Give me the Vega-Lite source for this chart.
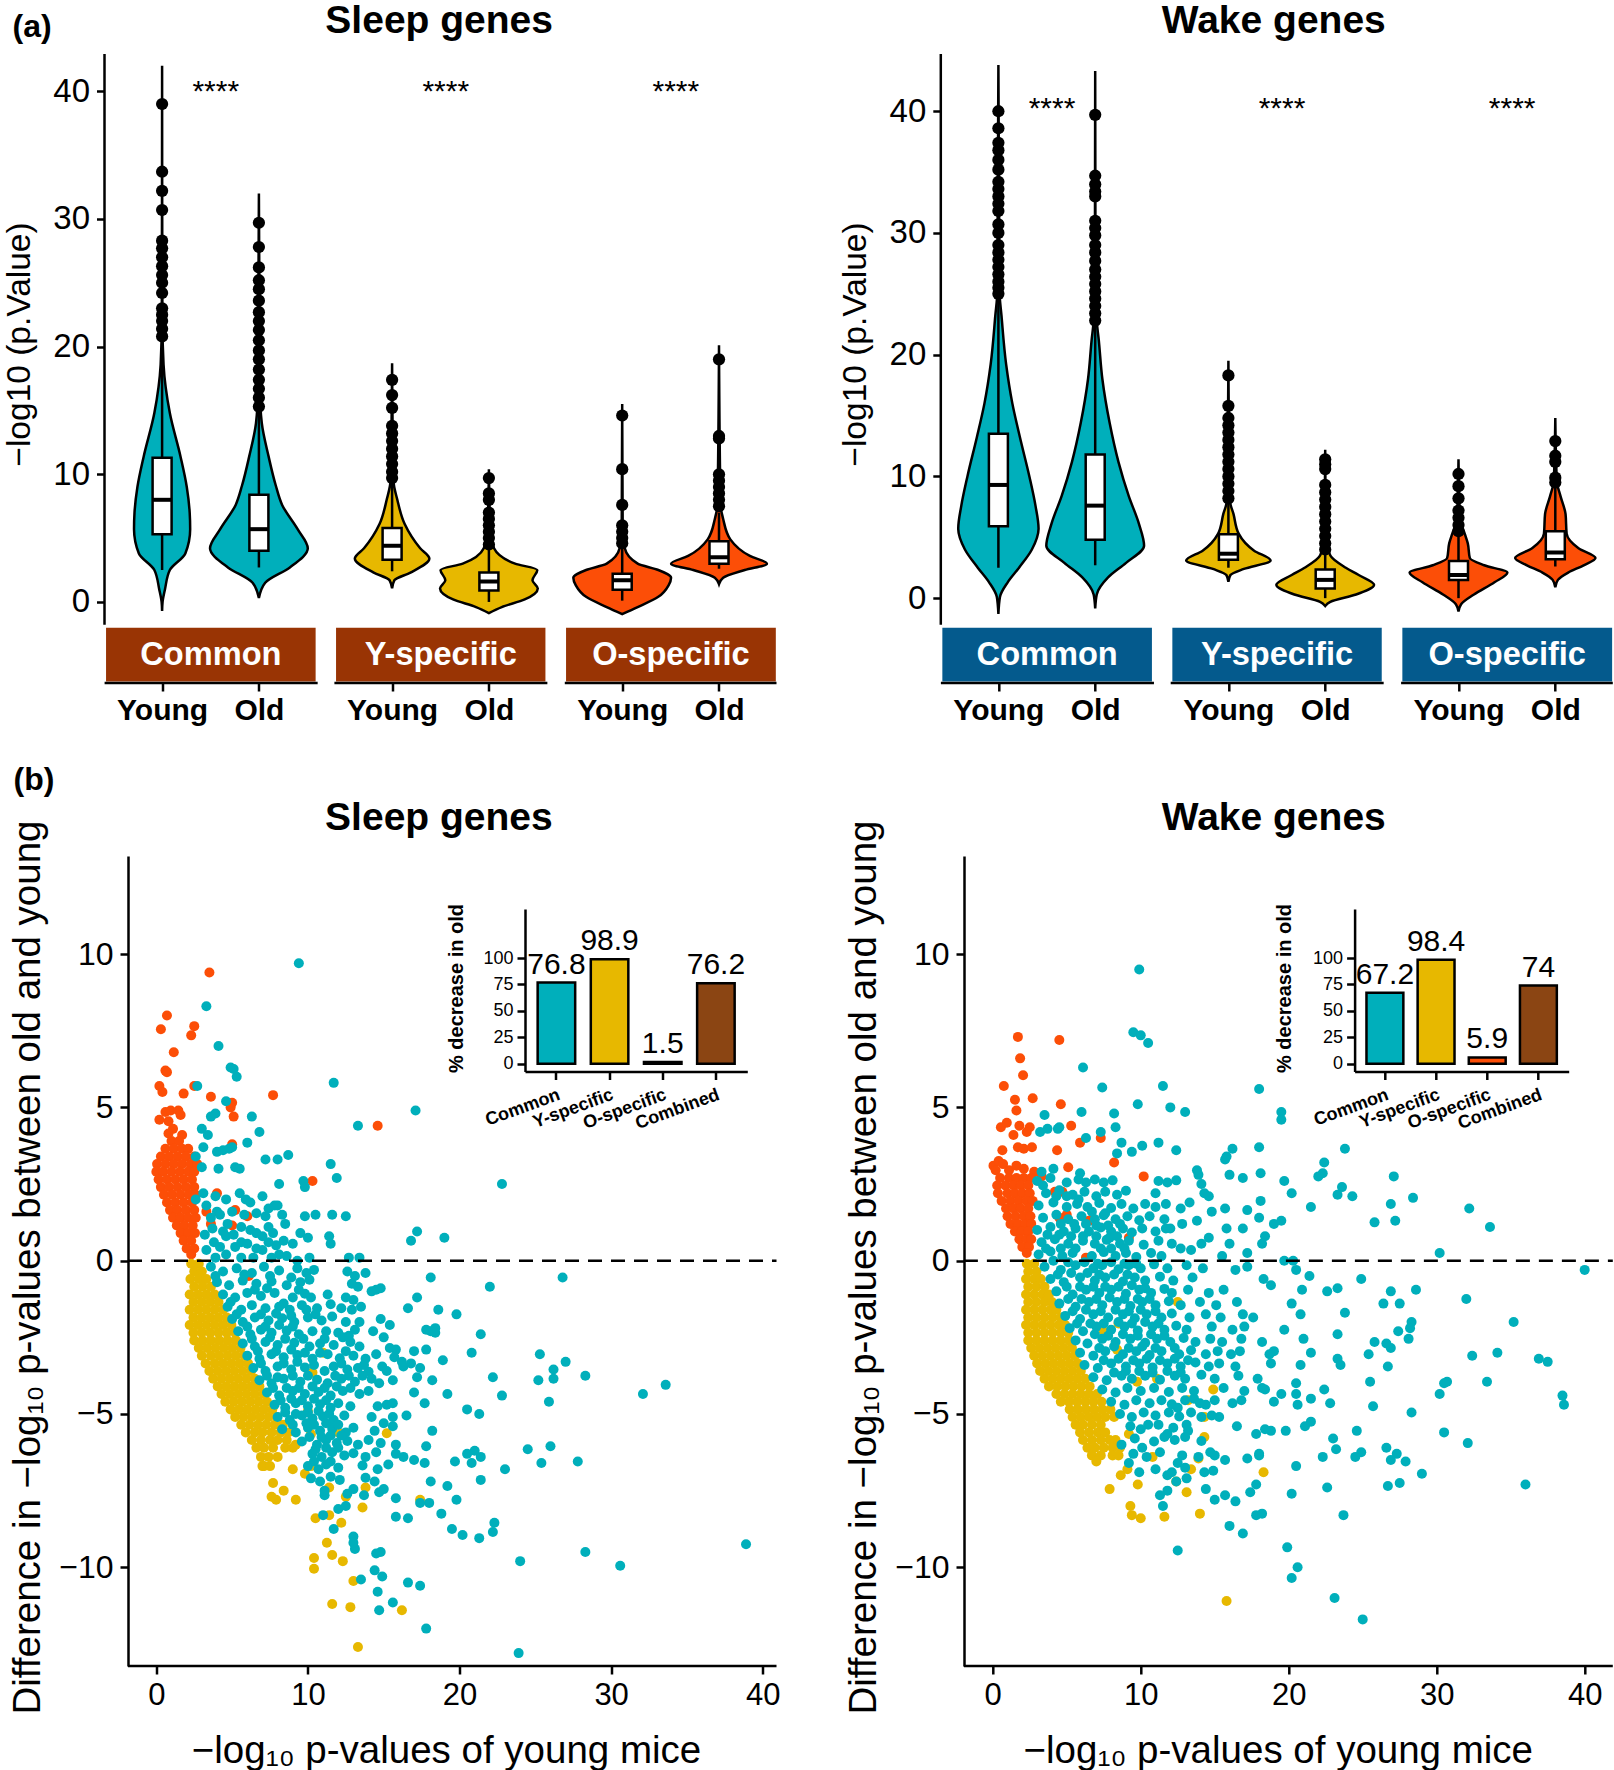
{"$schema":"https://vega.github.io/schema/vega-lite/v6.json","padding":{"left":1.5,"top":1,"right":0,"bottom":0},"background":"white","columns":2,"bounds":"flush","spacing":{"row":173,"column":164.3},"resolve":{"scale":{"color":"independent"}},"config":{"view":{"stroke":null},"font":"Liberation Sans","scale":{"continuousPadding":0},"axis":{"grid":false,"domainColor":"black","domainWidth":2.5,"tickColor":"black","tickWidth":2.5,"tickSize":8,"labelColor":"black","titleColor":"black","labelFont":"Liberation Sans","titleFont":"Liberation Sans","titleFontWeight":"normal","labelOverlap":false,"labelFlush":false,"labelBound":false},"text":{"font":"Liberation Sans"}},
"datasets":{
"strips":[{"class":"Common","from":0.421,"to":2.586,"a0":0.406,"a1":2.607,"mid":1.504,"stars":"****","sx":1.554},{"class":"Y-specific","from":2.797,"to":4.96,"a0":2.78,"a1":4.98,"mid":3.878,"stars":"****","sx":3.93},{"class":"O-specific","from":5.173,"to":7.34,"a0":5.16,"a1":7.347,"mid":6.256,"stars":"****","sx":6.307}],
"vS":[{"group":"CY","value":-0.7,"lo":1,"hi":1},{"group":"CY","value":0,"lo":0.995,"hi":1.005},{"group":"CY","value":1,"lo":0.97,"hi":1.03},{"group":"CY","value":2.5,"lo":0.92,"hi":1.08},{"group":"CY","value":3.8,"lo":0.76,"hi":1.24},{"group":"CY","value":5.7,"lo":0.71,"hi":1.29},{"group":"CY","value":7,"lo":0.715,"hi":1.285},{"group":"CY","value":9,"lo":0.745,"hi":1.255},{"group":"CY","value":11.4,"lo":0.81,"hi":1.19},{"group":"CY","value":14.8,"lo":0.92,"hi":1.08},{"group":"CY","value":18.6,"lo":0.985,"hi":1.015},{"group":"CY","value":22,"lo":0.997,"hi":1.003},{"group":"CY","value":42,"lo":1,"hi":1},
{"group":"CO","value":0.3,"lo":2,"hi":2},{"group":"CO","value":1.5,"lo":1.935,"hi":2.065},{"group":"CO","value":2.7,"lo":1.68,"hi":2.32},{"group":"CO","value":4.2,"lo":1.495,"hi":2.505},{"group":"CO","value":5.7,"lo":1.6,"hi":2.4},{"group":"CO","value":7.6,"lo":1.76,"hi":2.24},{"group":"CO","value":9.1,"lo":1.825,"hi":2.175},{"group":"CO","value":11.4,"lo":1.9,"hi":2.1},{"group":"CO","value":14,"lo":1.97,"hi":2.03},{"group":"CO","value":16.6,"lo":1.99,"hi":2.01},{"group":"CO","value":32,"lo":2,"hi":2},
{"group":"YY","value":1.06,"lo":3.376,"hi":3.376},{"group":"YY","value":1.7,"lo":3.35,"hi":3.4},{"group":"YY","value":2.3,"lo":3.186,"hi":3.566},{"group":"YY","value":3.4,"lo":2.991,"hi":3.761},{"group":"YY","value":4.2,"lo":3.086,"hi":3.666},{"group":"YY","value":6.1,"lo":3.246,"hi":3.506},{"group":"YY","value":8,"lo":3.32,"hi":3.43},{"group":"YY","value":9.5,"lo":3.36,"hi":3.39},{"group":"YY","value":18.7,"lo":3.376,"hi":3.376},
{"group":"YO","value":-0.87,"lo":4.376,"hi":4.376},{"group":"YO","value":-0.4,"lo":4.243,"hi":4.509},{"group":"YO","value":0.2,"lo":4.006,"hi":4.746},{"group":"YO","value":1.06,"lo":3.871,"hi":4.881},{"group":"YO","value":1.7,"lo":3.926,"hi":4.826},{"group":"YO","value":2.5,"lo":3.876,"hi":4.876},{"group":"YO","value":3,"lo":4.106,"hi":4.646},{"group":"YO","value":4.2,"lo":4.323,"hi":4.429},{"group":"YO","value":5.4,"lo":4.36,"hi":4.392},{"group":"YO","value":10.4,"lo":4.376,"hi":4.376},
{"group":"OY","value":-0.95,"lo":5.753,"hi":5.753},{"group":"OY","value":-0.4,"lo":5.593,"hi":5.913},{"group":"OY","value":0.4,"lo":5.38,"hi":6.126},{"group":"OY","value":1.3,"lo":5.274,"hi":6.232},{"group":"OY","value":1.9,"lo":5.248,"hi":6.258},{"group":"OY","value":2.5,"lo":5.38,"hi":6.126},{"group":"OY","value":3,"lo":5.593,"hi":5.913},{"group":"OY","value":4.2,"lo":5.726,"hi":5.78},{"group":"OY","value":5.8,"lo":5.748,"hi":5.758},{"group":"OY","value":15.5,"lo":5.753,"hi":5.753},
{"group":"OO","value":1.4,"lo":6.753,"hi":6.753},{"group":"OO","value":1.9,"lo":6.71,"hi":6.796},{"group":"OO","value":2.5,"lo":6.487,"hi":7.019},{"group":"OO","value":3,"lo":6.258,"hi":7.248},{"group":"OO","value":3.6,"lo":6.434,"hi":7.072},{"group":"OO","value":4.9,"lo":6.636,"hi":6.87},{"group":"OO","value":6.5,"lo":6.71,"hi":6.796},{"group":"OO","value":7.6,"lo":6.737,"hi":6.769},{"group":"OO","value":20.1,"lo":6.753,"hi":6.753}],
"vW":[{"group":"CY","value":-1.3,"lo":1,"hi":1},{"group":"CY","value":0.1,"lo":0.984,"hi":1.016},{"group":"CY","value":1.3,"lo":0.904,"hi":1.096},{"group":"CY","value":2.5,"lo":0.787,"hi":1.213},{"group":"CY","value":4,"lo":0.654,"hi":1.346},{"group":"CY","value":5.7,"lo":0.585,"hi":1.415},{"group":"CY","value":7.6,"lo":0.617,"hi":1.383},{"group":"CY","value":10,"lo":0.68,"hi":1.32},{"group":"CY","value":13.2,"lo":0.777,"hi":1.223},{"group":"CY","value":16,"lo":0.856,"hi":1.144},{"group":"CY","value":19.2,"lo":0.92,"hi":1.08},{"group":"CY","value":23.2,"lo":0.968,"hi":1.032},{"group":"CY","value":25.2,"lo":0.989,"hi":1.011},{"group":"CY","value":43.8,"lo":1,"hi":1},
{"group":"CO","value":-0.85,"lo":2,"hi":2},{"group":"CO","value":0.3,"lo":1.984,"hi":2.016},{"group":"CO","value":1.7,"lo":1.867,"hi":2.133},{"group":"CO","value":2.9,"lo":1.681,"hi":2.319},{"group":"CO","value":4.3,"lo":1.495,"hi":2.505},{"group":"CO","value":6.1,"lo":1.548,"hi":2.452},{"group":"CO","value":8.4,"lo":1.654,"hi":2.346},{"group":"CO","value":11.2,"lo":1.76,"hi":2.24},{"group":"CO","value":14.4,"lo":1.851,"hi":2.149},{"group":"CO","value":18,"lo":1.926,"hi":2.074},{"group":"CO","value":21.2,"lo":1.963,"hi":2.037},{"group":"CO","value":22.8,"lo":1.984,"hi":2.016},{"group":"CO","value":27,"lo":1.997,"hi":2.003},{"group":"CO","value":43.3,"lo":2,"hi":2},
{"group":"YY","value":1.35,"lo":3.376,"hi":3.376},{"group":"YY","value":1.9,"lo":3.355,"hi":3.397},{"group":"YY","value":2.4,"lo":3.216,"hi":3.536},{"group":"YY","value":3.1,"lo":2.94,"hi":3.812},{"group":"YY","value":3.9,"lo":3.11,"hi":3.642},{"group":"YY","value":5.3,"lo":3.27,"hi":3.482},{"group":"YY","value":6.9,"lo":3.323,"hi":3.429},{"group":"YY","value":8,"lo":3.36,"hi":3.392},{"group":"YY","value":19.5,"lo":3.376,"hi":3.376},
{"group":"YO","value":-0.64,"lo":4.376,"hi":4.376},{"group":"YO","value":-0.3,"lo":4.323,"hi":4.429},{"group":"YO","value":0.3,"lo":4.057,"hi":4.695},{"group":"YO","value":1.1,"lo":3.871,"hi":4.881},{"group":"YO","value":1.9,"lo":4.03,"hi":4.722},{"group":"YO","value":2.5,"lo":4.163,"hi":4.589},{"group":"YO","value":3.5,"lo":4.323,"hi":4.429},{"group":"YO","value":4.9,"lo":4.365,"hi":4.387},{"group":"YO","value":12.2,"lo":4.376,"hi":4.376},
{"group":"OY","value":-1.1,"lo":5.753,"hi":5.753},{"group":"OY","value":-0.5,"lo":5.726,"hi":5.78},{"group":"OY","value":0.3,"lo":5.593,"hi":5.913},{"group":"OY","value":1.3,"lo":5.381,"hi":6.125},{"group":"OY","value":2.1,"lo":5.248,"hi":6.258},{"group":"OY","value":2.7,"lo":5.487,"hi":6.019},{"group":"OY","value":3.3,"lo":5.636,"hi":5.87},{"group":"OY","value":4.5,"lo":5.657,"hi":5.849},{"group":"OY","value":5.3,"lo":5.689,"hi":5.817},{"group":"OY","value":6.5,"lo":5.737,"hi":5.769},{"group":"OY","value":11.4,"lo":5.753,"hi":5.753},
{"group":"OO","value":0.9,"lo":6.753,"hi":6.753},{"group":"OO","value":1.5,"lo":6.726,"hi":6.78},{"group":"OO","value":2.1,"lo":6.62,"hi":6.886},{"group":"OO","value":2.7,"lo":6.46,"hi":7.046},{"group":"OO","value":3.3,"lo":6.338,"hi":7.168},{"group":"OO","value":4.1,"lo":6.513,"hi":6.993},{"group":"OO","value":5.3,"lo":6.636,"hi":6.87},{"group":"OO","value":6.9,"lo":6.647,"hi":6.859},{"group":"OO","value":8.4,"lo":6.7,"hi":6.806},{"group":"OO","value":9.6,"lo":6.737,"hi":6.769},{"group":"OO","value":14.8,"lo":6.753,"hi":6.753}],
"bS":[{"pos":1,"low":2.5,"q1":5.3,"median":8,"q3":11.3,"high":20.3},{"pos":2,"low":2.7,"q1":4,"median":5.7,"q3":8.4,"high":15},{"pos":3.376,"low":2.4,"q1":3.3,"median":4.4,"q3":5.8,"high":9.3},{"pos":4.376,"low":0,"q1":0.9,"median":1.6,"q3":2.3,"high":4.2},{"pos":5.753,"low":0.1,"q1":0.95,"median":1.7,"q3":2.2,"high":4.2},{"pos":6.753,"low":2.6,"q1":3,"median":3.5,"q3":4.75,"high":7}],
"bW":[{"pos":1,"low":2.5,"q1":5.9,"median":9.3,"q3":13.5,"high":25},{"pos":2,"low":2.7,"q1":4.8,"median":7.6,"q3":11.8,"high":22.5},{"pos":3.376,"low":2.5,"q1":3.15,"median":3.65,"q3":5.25,"high":8},{"pos":4.376,"low":0,"q1":0.8,"median":1.5,"q3":2.35,"high":3.7},{"pos":5.753,"low":0,"q1":1.5,"median":1.9,"q3":3.05,"high":5.2},{"pos":6.753,"low":2.6,"q1":3.2,"median":3.75,"q3":5.5,"high":9.5}],
"oS":[{"pos":1,"value":39},{"pos":1,"value":33.7},{"pos":1,"value":32.2},{"pos":1,"value":30.7},{"pos":1,"value":28.3},{"pos":1,"value":27.7},{"pos":1,"value":27},{"pos":1,"value":26.3},{"pos":1,"value":25.6},{"pos":1,"value":25},{"pos":1,"value":24.2},{"pos":1,"value":23},{"pos":1,"value":22.5},{"pos":1,"value":22},{"pos":1,"value":21.4},{"pos":1,"value":20.8},{"pos":2,"value":29.7},{"pos":2,"value":27.8},{"pos":2,"value":26.2},{"pos":2,"value":25.2},{"pos":2,"value":24.5},{"pos":2,"value":23.6},{"pos":2,"value":22.7},{"pos":2,"value":22},{"pos":2,"value":21.3},{"pos":2,"value":20.5},{"pos":2,"value":19.7},{"pos":2,"value":19},{"pos":2,"value":18.2},{"pos":2,"value":17.4},{"pos":2,"value":16.7},{"pos":2,"value":16},{"pos":2,"value":15.3},{"pos":3.376,"value":17.4},{"pos":3.376,"value":16.2},{"pos":3.376,"value":15.2},{"pos":3.376,"value":13.8},{"pos":3.376,"value":13.2},{"pos":3.376,"value":12.6},{"pos":3.376,"value":12},{"pos":3.376,"value":11.4},{"pos":3.376,"value":10.8},{"pos":3.376,"value":10.2},{"pos":3.376,"value":9.7},{"pos":4.376,"value":9.7},{"pos":4.376,"value":8.5},{"pos":4.376,"value":8},{"pos":4.376,"value":7},{"pos":4.376,"value":6.5},{"pos":4.376,"value":6},{"pos":4.376,"value":5.5},{"pos":4.376,"value":5},{"pos":4.376,"value":4.5},{"pos":5.753,"value":14.6},{"pos":5.753,"value":10.4},{"pos":5.753,"value":7.6},{"pos":5.753,"value":6},{"pos":5.753,"value":5.5},{"pos":5.753,"value":5},{"pos":5.753,"value":4.6},{"pos":6.753,"value":19},{"pos":6.753,"value":13},{"pos":6.753,"value":12.8},{"pos":6.753,"value":10},{"pos":6.753,"value":9.5},{"pos":6.753,"value":9},{"pos":6.753,"value":8.5},{"pos":6.753,"value":8},{"pos":6.753,"value":7.5}],
"oW":[{"pos":1,"value":40},{"pos":1,"value":38.6},{"pos":1,"value":37.4},{"pos":1,"value":36.8},{"pos":1,"value":36},{"pos":1,"value":35.2},{"pos":1,"value":34.2},{"pos":1,"value":33.6},{"pos":1,"value":33},{"pos":1,"value":32.4},{"pos":1,"value":31.8},{"pos":1,"value":30.7},{"pos":1,"value":30},{"pos":1,"value":29},{"pos":1,"value":28.4},{"pos":1,"value":27.8},{"pos":1,"value":27.2},{"pos":1,"value":26.6},{"pos":1,"value":26},{"pos":1,"value":25.5},{"pos":1,"value":25},{"pos":2,"value":39.7},{"pos":2,"value":34.7},{"pos":2,"value":34},{"pos":2,"value":33.4},{"pos":2,"value":33},{"pos":2,"value":31},{"pos":2,"value":30.4},{"pos":2,"value":29.8},{"pos":2,"value":29},{"pos":2,"value":28.4},{"pos":2,"value":27.7},{"pos":2,"value":27},{"pos":2,"value":26.4},{"pos":2,"value":25.8},{"pos":2,"value":25.2},{"pos":2,"value":24.6},{"pos":2,"value":24},{"pos":2,"value":23.4},{"pos":2,"value":22.8},{"pos":3.376,"value":18.3},{"pos":3.376,"value":15.8},{"pos":3.376,"value":14.8},{"pos":3.376,"value":14.2},{"pos":3.376,"value":13.6},{"pos":3.376,"value":13},{"pos":3.376,"value":12.4},{"pos":3.376,"value":11.8},{"pos":3.376,"value":11.2},{"pos":3.376,"value":10.6},{"pos":3.376,"value":10},{"pos":3.376,"value":9.4},{"pos":3.376,"value":8.8},{"pos":3.376,"value":8.2},{"pos":4.376,"value":11.4},{"pos":4.376,"value":11},{"pos":4.376,"value":10.6},{"pos":4.376,"value":9.3},{"pos":4.376,"value":8.7},{"pos":4.376,"value":8.1},{"pos":4.376,"value":7.5},{"pos":4.376,"value":6.9},{"pos":4.376,"value":6.3},{"pos":4.376,"value":5.7},{"pos":4.376,"value":5.1},{"pos":4.376,"value":4.5},{"pos":4.376,"value":4},{"pos":5.753,"value":10.2},{"pos":5.753,"value":9.2},{"pos":5.753,"value":8.2},{"pos":5.753,"value":7.2},{"pos":5.753,"value":6.6},{"pos":5.753,"value":6},{"pos":5.753,"value":5.5},{"pos":6.753,"value":12.9},{"pos":6.753,"value":11.7},{"pos":6.753,"value":11.2},{"pos":6.753,"value":9.9},{"pos":6.753,"value":9.5}],
"iS":[{"class":"Common","pct":76.8},{"class":"Y-specific","pct":98.9},{"class":"O-specific","pct":1.5},{"class":"Combined","pct":76.2}],
"iW":[{"class":"Common","pct":67.2},{"class":"Y-specific","pct":98.4},{"class":"O-specific","pct":5.9},{"class":"Combined","pct":74}],
"sO":[{"x":3.5,"y":9.4},{"x":0.7,"y":8},{"x":0.3,"y":7.55},{"x":2.5,"y":7.65},{"x":2.3,"y":7.35},{"x":1.15,"y":6.8},{"x":0.6,"y":6.2},{"x":0.7,"y":6.15},{"x":0.2,"y":5.7},{"x":0.4,"y":5.5},{"x":2.5,"y":5.7},{"x":1.8,"y":5.45},{"x":3.6,"y":5.35},{"x":7.7,"y":5.4},{"x":5,"y":5.15},{"x":4.9,"y":5},{"x":5.1,"y":4.7},{"x":14.6,"y":4.4},{"x":0.2,"y":4.6},{"x":0.6,"y":4.85},{"x":0.95,"y":4.9},{"x":1.45,"y":4.9},{"x":1.6,"y":4.75},{"x":0.8,"y":4.55},{"x":1.1,"y":4.3},{"x":1.7,"y":4.1},{"x":0.8,"y":4.15},{"x":5,"y":3.8},{"x":10.3,"y":2.6},{"x":4,"y":2.2},{"x":5.2,"y":1.65},{"x":6,"y":1.45},{"x":3.3,"y":1.6},{"x":3.6,"y":1.2},{"x":5,"y":1.15},{"x":6.1,"y":-0.5},
{"x":1,"y":3.9},{"x":1.5,"y":3.9},{"x":0.6,"y":3.65},{"x":1.15,"y":3.65},{"x":1.7,"y":3.65},{"x":2.1,"y":3.65},{"x":0.3,"y":3.4},{"x":0.85,"y":3.4},{"x":1.4,"y":3.4},{"x":1.95,"y":3.4},{"x":2.5,"y":3.4},{"x":0.05,"y":3.15},{"x":0.6,"y":3.15},{"x":1.15,"y":3.15},{"x":1.7,"y":3.15},{"x":2.25,"y":3.15},{"x":2.7,"y":3.15},{"x":0,"y":2.9},{"x":0.45,"y":2.9},{"x":1,"y":2.9},{"x":1.55,"y":2.9},{"x":2.1,"y":2.9},{"x":2.5,"y":2.9},{"x":0.15,"y":2.65},{"x":0.7,"y":2.65},{"x":1.25,"y":2.65},{"x":1.8,"y":2.65},{"x":2.35,"y":2.65},{"x":0.3,"y":2.4},{"x":0.85,"y":2.4},{"x":1.4,"y":2.4},{"x":1.95,"y":2.4},{"x":2.5,"y":2.4},{"x":0.5,"y":2.15},{"x":1.05,"y":2.15},{"x":1.6,"y":2.15},{"x":2.15,"y":2.15},{"x":2.6,"y":2.15},{"x":0.7,"y":1.9},{"x":1.25,"y":1.9},{"x":1.8,"y":1.9},{"x":2.35,"y":1.9},{"x":0.9,"y":1.65},{"x":1.4,"y":1.65},{"x":1.95,"y":1.65},{"x":2.5,"y":1.65},{"x":1.1,"y":1.4},{"x":1.6,"y":1.4},{"x":2.1,"y":1.4},{"x":2.6,"y":1.4},{"x":1.35,"y":1.15},{"x":1.85,"y":1.15},{"x":2.4,"y":1.15},{"x":1.6,"y":0.9},{"x":2.1,"y":0.9},{"x":2.55,"y":0.9},{"x":1.8,"y":0.65},{"x":2.3,"y":0.65},{"x":2,"y":0.4},{"x":2.5,"y":0.4},{"x":2.3,"y":0.2}],
"sY":[{"x":15.2,"y":-5.63},{"x":17.4,"y":-7.8},{"x":10.4,"y":-9.7},{"x":10.4,"y":-10.05},{"x":11.25,"y":-9.2},{"x":11.6,"y":-9.6},{"x":12.3,"y":-9.8},{"x":13,"y":-10.45},{"x":11.6,"y":-11.2},{"x":12.8,"y":-11.3},{"x":16.2,"y":-11.4},{"x":13.3,"y":-12.6},{"x":10.5,"y":-8.4},{"x":12.2,"y":-8.55},{"x":11.4,"y":-8.3},{"x":12.5,"y":-7.7},{"x":13.6,"y":-8.05},{"x":13.8,"y":-7.4},{"x":11.4,"y":-7.4},{"x":9.2,"y":-7.8},{"x":7.9,"y":-7.8},{"x":7.6,"y":-7.7},{"x":8.4,"y":-7.5},{"x":9,"y":-6.8},{"x":9.8,"y":-6.95},{"x":7.7,"y":-7.25},{"x":7.1,"y":-6.7},{"x":10.2,"y":-6.7},{"x":9.2,"y":-6},{"x":10.2,"y":-5.65},{"x":12,"y":-5.6},{"x":11,"y":-3},{"x":10.3,"y":-3.65},{"x":10,"y":-4.9},
{"x":2.3,"y":-0.1},{"x":2.8,"y":-0.1},{"x":2.5,"y":-0.35},{"x":3,"y":-0.35},{"x":2.25,"y":-0.6},{"x":2.8,"y":-0.6},{"x":3.3,"y":-0.6},{"x":2.5,"y":-0.85},{"x":3.05,"y":-0.85},{"x":3.6,"y":-0.85},{"x":2.2,"y":-1.1},{"x":2.75,"y":-1.1},{"x":3.3,"y":-1.1},{"x":3.85,"y":-1.1},{"x":2.45,"y":-1.35},{"x":3,"y":-1.35},{"x":3.55,"y":-1.35},{"x":4.1,"y":-1.35},{"x":2.2,"y":-1.6},{"x":2.75,"y":-1.6},{"x":3.3,"y":-1.6},{"x":3.85,"y":-1.6},{"x":4.4,"y":-1.6},{"x":2.45,"y":-1.85},{"x":3,"y":-1.85},{"x":3.55,"y":-1.85},{"x":4.1,"y":-1.85},{"x":4.65,"y":-1.85},{"x":2.2,"y":-2.1},{"x":2.75,"y":-2.1},{"x":3.3,"y":-2.1},{"x":3.85,"y":-2.1},{"x":4.4,"y":-2.1},{"x":4.95,"y":-2.1},{"x":2.45,"y":-2.35},{"x":3,"y":-2.35},{"x":3.55,"y":-2.35},{"x":4.1,"y":-2.35},{"x":4.65,"y":-2.35},{"x":5.2,"y":-2.35},{"x":2.5,"y":-2.6},{"x":3.05,"y":-2.6},{"x":3.6,"y":-2.6},{"x":4.15,"y":-2.6},{"x":4.7,"y":-2.6},{"x":5.25,"y":-2.6},{"x":2.8,"y":-2.85},{"x":3.35,"y":-2.85},{"x":3.9,"y":-2.85},{"x":4.45,"y":-2.85},{"x":5,"y":-2.85},{"x":5.55,"y":-2.85},{"x":3,"y":-3.1},{"x":3.6,"y":-3.1},{"x":4.15,"y":-3.1},{"x":4.7,"y":-3.1},{"x":5.25,"y":-3.1},{"x":5.8,"y":-3.1},{"x":3.25,"y":-3.35},{"x":3.85,"y":-3.35},{"x":4.4,"y":-3.35},{"x":4.95,"y":-3.35},{"x":5.5,"y":-3.35},{"x":6.05,"y":-3.35},{"x":3.5,"y":-3.6},{"x":4.05,"y":-3.6},{"x":4.6,"y":-3.6},{"x":5.15,"y":-3.6},{"x":5.7,"y":-3.6},{"x":6.25,"y":-3.6},{"x":3.75,"y":-3.85},{"x":4.3,"y":-3.85},{"x":4.85,"y":-3.85},{"x":5.4,"y":-3.85},{"x":5.95,"y":-3.85},{"x":6.5,"y":-3.85},{"x":4.05,"y":-4.1},{"x":4.6,"y":-4.1},{"x":5.15,"y":-4.1},{"x":5.7,"y":-4.1},{"x":6.25,"y":-4.1},{"x":6.8,"y":-4.1},{"x":4.3,"y":-4.35},{"x":4.85,"y":-4.35},{"x":5.4,"y":-4.35},{"x":5.95,"y":-4.35},{"x":6.5,"y":-4.35},{"x":7.05,"y":-4.35},{"x":4.55,"y":-4.6},{"x":5.1,"y":-4.6},{"x":5.65,"y":-4.6},{"x":6.2,"y":-4.6},{"x":6.75,"y":-4.6},{"x":7.3,"y":-4.6},{"x":4.9,"y":-4.85},{"x":5.45,"y":-4.85},{"x":6,"y":-4.85},{"x":6.55,"y":-4.85},{"x":7.1,"y":-4.85},{"x":7.65,"y":-4.85},{"x":5.2,"y":-5.1},{"x":5.75,"y":-5.1},{"x":6.3,"y":-5.1},{"x":6.85,"y":-5.1},{"x":7.4,"y":-5.1},{"x":7.95,"y":-5.1},{"x":5.6,"y":-5.35},{"x":6.15,"y":-5.35},{"x":6.7,"y":-5.35},{"x":7.25,"y":-5.35},{"x":7.8,"y":-5.35},{"x":8.35,"y":-5.35},{"x":5.9,"y":-5.6},{"x":6.5,"y":-5.6},{"x":7,"y":-5.6},{"x":7.6,"y":-5.6},{"x":8.2,"y":-5.6},{"x":8.7,"y":-5.6},{"x":6.3,"y":-5.85},{"x":6.9,"y":-5.85},{"x":7.5,"y":-5.85},{"x":8,"y":-5.85},{"x":8.6,"y":-5.85},{"x":6.6,"y":-6.1},{"x":7.1,"y":-6.1},{"x":7.7,"y":-6.1},{"x":8.5,"y":-6.1},{"x":9,"y":-6.1},{"x":6.9,"y":-6.4},{"x":7.4,"y":-6.4},{"x":8,"y":-6.4},{"x":7,"y":-6.7},{"x":7.5,"y":-6.7}],
"sT":[{"x":9.4,"y":9.7},{"x":3.3,"y":8.3},{"x":4.1,"y":7},{"x":4.9,"y":6.3},{"x":5.1,"y":6.25},{"x":5.3,"y":6},{"x":2.7,"y":5.7},{"x":4.6,"y":5.2},{"x":11.7,"y":5.8},{"x":17.1,"y":4.9},{"x":13.3,"y":4.4},{"x":22.8,"y":2.5},{"x":17.2,"y":0.95},{"x":16.8,"y":0.65},{"x":19,"y":0.75},{"x":18.1,"y":-0.55},{"x":17.2,"y":-1.2},{"x":16.6,"y":-1.55},{"x":18.6,"y":-1.6},{"x":19.8,"y":-1.75},{"x":22,"y":-0.85},{"x":26.8,"y":-0.55},{"x":17.8,"y":-2.25},{"x":18.1,"y":-2.3},{"x":18.4,"y":-2.2},{"x":18.4,"y":-2.35},{"x":21.4,"y":-2.4},{"x":20.8,"y":-3},{"x":18.9,"y":-3.25},{"x":25.3,"y":-3.05},{"x":27,"y":-3.3},{"x":26.2,"y":-3.55},{"x":26.2,"y":-3.85},{"x":25.2,"y":-3.9},{"x":28.3,"y":-3.75},{"x":33.6,"y":-4.05},{"x":32.1,"y":-4.35},{"x":22.2,"y":-3.8},{"x":22.8,"y":-4.4},{"x":19.2,"y":-4.35},{"x":20.5,"y":-4.85},{"x":21.3,"y":-5},{"x":25.9,"y":-4.6},{"x":24.5,"y":-6.15},{"x":26,"y":-6.05},{"x":25.4,"y":-6.6},{"x":27.8,"y":-6.55},{"x":23,"y":-6.8},{"x":20.5,"y":-6.3},{"x":21,"y":-6.2},{"x":21.4,"y":-6.4},{"x":19.7,"y":-6.55},{"x":20.8,"y":-6.6},{"x":21.4,"y":-7.15},{"x":19.2,"y":-7.35},{"x":19.8,"y":-7.8},{"x":18.8,"y":-8.25},{"x":19.5,"y":-8.75},{"x":20.2,"y":-8.95},{"x":21.3,"y":-9.05},{"x":22.2,"y":-8.85},{"x":22.3,"y":-8.55},{"x":28.3,"y":-9.5},{"x":24,"y":-9.8},{"x":30.6,"y":-9.95},{"x":38.9,"y":-9.25},{"x":23.9,"y":-12.8},{"x":17.8,"y":-12},{"x":17.4,"y":-10.6},{"x":16.6,"y":-10.5},{"x":15.6,"y":-11.15},{"x":14.7,"y":-11.4},{"x":14.6,"y":-10.8},{"x":14.9,"y":-10.3},{"x":14.4,"y":-10.1},{"x":14.5,"y":-9.55},{"x":14.8,"y":-9.5},{"x":13.5,"y":-10.4},{"x":13,"y":-9},{"x":13.1,"y":-9.4},{"x":13,"y":-9.2},{"x":11.7,"y":-8.75},{"x":12,"y":-8.1},{"x":12.5,"y":-8},{"x":11,"y":-8.3},{"x":11.1,"y":-7.65},{"x":13.7,"y":-7.65},{"x":15,"y":-7.45},{"x":15.8,"y":-7.75},{"x":15.8,"y":-8.35},{"x":16.6,"y":-8.4},{"x":17.4,"y":-7.9},{"x":18,"y":-7.9},{"x":18.1,"y":-7.2},{"x":17.8,"y":-6.05},{"x":18.2,"y":-5.55},{"x":17.7,"y":-6.6},{"x":17,"y":-6.5},{"x":16.3,"y":-6.4},{"x":15.8,"y":-6.3},{"x":15.8,"y":-6},{"x":15.6,"y":-5.4},{"x":16.5,"y":-5.05},{"x":17.7,"y":-4.65},{"x":17,"y":-4.3},{"x":17.2,"y":-3.8},{"x":18.2,"y":-3.9},{"x":16.8,"y":-3.35},{"x":16.3,"y":-3.45},{"x":17.8,"y":-2.9},{"x":17,"y":-2.95},{"x":17.4,"y":-3.5},
{"x":3.6,"y":4.7},{"x":3.9,"y":4.8},{"x":6.3,"y":4.7},{"x":3,"y":4.3},{"x":3.4,"y":4.1},{"x":6.8,"y":4.2},{"x":6,"y":3.85},{"x":5,"y":3.7},{"x":4,"y":3.55},{"x":4.4,"y":3.6},{"x":4.8,"y":3.65},{"x":3.1,"y":3.7},{"x":2.6,"y":3.4},{"x":8.7,"y":3.45},{"x":8,"y":3.3},{"x":7.2,"y":3.3},{"x":5.2,"y":3.05},{"x":5.5,"y":3},{"x":4.1,"y":3},{"x":3,"y":3.05},{"x":11.5,"y":3.15},{"x":9.7,"y":2.6},{"x":9.8,"y":2.4},{"x":11.9,"y":2.7},{"x":8.1,"y":2.5},{"x":2.6,"y":2},{"x":3.1,"y":2.2},{"x":3.9,"y":2.1},{"x":4.6,"y":2},{"x":5.5,"y":2.2},{"x":5.9,"y":2},{"x":6.2,"y":1.9},{"x":7,"y":2.1},{"x":7.4,"y":1.7},{"x":7.8,"y":1.8},{"x":8,"y":1.8},{"x":9.8,"y":1.45},{"x":10.5,"y":1.5},{"x":11.6,"y":1.5},{"x":12.5,"y":1.45},{"x":11.4,"y":0.8},{"x":11.5,"y":0.55},{"x":9.5,"y":0.9},{"x":10,"y":0.75},{"x":8.5,"y":1.2},{"x":7.2,"y":1.45},{"x":8.3,"y":1.5},{"x":6.6,"y":0.9},{"x":7.4,"y":1.1},{"x":8.4,"y":0.65},{"x":9,"y":0.55},{"x":7.9,"y":0.5},{"x":7,"y":0.35},{"x":5.6,"y":1.1},{"x":4.7,"y":1.2},{"x":4,"y":1.6},{"x":3.3,"y":1.8},{"x":3.7,"y":1.05},{"x":3.2,"y":0.85},{"x":4.6,"y":0.8},{"x":6,"y":0.55},{"x":5.2,"y":0.45},{"x":4.2,"y":0.45},{"x":3.3,"y":0.35},{"x":12.7,"y":0.1},{"x":13.4,"y":0.1},{"x":9.3,"y":0},{"x":10.1,"y":0.1},{"x":4.2,"y":1.5},{"x":5,"y":1.6},{"x":5.8,"y":1.5},{"x":6.6,"y":1.55},{"x":3.6,"y":1.4},{"x":4.4,"y":0.95},{"x":5.1,"y":0.85},{"x":6.2,"y":1},{"x":7,"y":0.8},{"x":7.7,"y":0.9},{"x":3.8,"y":0.6},{"x":5.6,"y":0.6},{"x":6.6,"y":0.4},{"x":7.4,"y":0.6},{"x":8.1,"y":0.2},{"x":4.6,"y":0.2},{"x":5.6,"y":0.1},{"x":6.4,"y":0.1},{"x":7.6,"y":0.1},{"x":8.6,"y":0.15},{"x":3.9,"y":0.1},
{"x":3.6,"y":-0.2},{"x":4.4,"y":-0.35},{"x":5.3,"y":-0.25},{"x":6.3,"y":-0.4},{"x":7.1,"y":-0.2},{"x":8.1,"y":-0.32},{"x":9.3,"y":-0.25},{"x":9.9,"y":-0.4},{"x":10.4,"y":-0.3},{"x":12.6,"y":-0.35},{"x":13.1,"y":-0.5},{"x":13.8,"y":-0.4},{"x":4,"y":-0.7},{"x":4.8,"y":-0.8},{"x":5.7,"y":-0.65},{"x":6.6,"y":-0.75},{"x":7.6,"y":-0.68},{"x":8.6,"y":-0.8},{"x":9.5,"y":-0.7},{"x":10.1,"y":-0.62},{"x":12.9,"y":-0.75},{"x":13.3,"y":-0.85},{"x":14.5,"y":-0.95},{"x":4.4,"y":-1.1},{"x":5.2,"y":-1.2},{"x":6,"y":-1.05},{"x":6.9,"y":-1.15},{"x":7.8,"y":-1.05},{"x":9,"y":-1.2},{"x":9.8,"y":-1.08},{"x":10.2,"y":-1.2},{"x":11.3,"y":-1.1},{"x":12.5,"y":-1.2},{"x":13,"y":-1.28},{"x":14.2,"y":-1},{"x":14.8,"y":-0.9},{"x":4.7,"y":-1.5},{"x":5.6,"y":-1.6},{"x":6.3,"y":-1.45},{"x":7.2,"y":-1.55},{"x":8.1,"y":-1.5},{"x":8.8,"y":-1.6},{"x":9.6,"y":-1.45},{"x":10.6,"y":-1.55},{"x":11.5,"y":-1.42},{"x":12.2,"y":-1.55},{"x":12.9,"y":-1.6},{"x":13.5,"y":-1.5},{"x":5,"y":-1.9},{"x":5.7,"y":-2},{"x":6.5,"y":-1.85},{"x":7.4,"y":-1.95},{"x":8.3,"y":-1.88},{"x":9.1,"y":-2},{"x":10,"y":-1.85},{"x":10.9,"y":-1.95},{"x":11.6,"y":-1.82},{"x":12.5,"y":-2},{"x":13.4,"y":-2},{"x":14.8,"y":-1.9},{"x":15.4,"y":-2.1},{"x":5.4,"y":-2.3},{"x":6.2,"y":-2.4},{"x":6.9,"y":-2.25},{"x":7.6,"y":-2.35},{"x":8.6,"y":-2.28},{"x":9.4,"y":-2.4},{"x":10.3,"y":-2.3},{"x":12,"y":-2.35},{"x":12.7,"y":-2.45},{"x":13.1,"y":-2.25},{"x":14.3,"y":-2.3},{"x":15,"y":-2.5},{"x":15.8,"y":-2.9},{"x":5.7,"y":-2.7},{"x":6.5,"y":-2.8},{"x":7.2,"y":-2.65},{"x":8,"y":-2.75},{"x":9.1,"y":-2.68},{"x":10.1,"y":-2.8},{"x":10.8,"y":-2.7},{"x":11.7,"y":-2.75},{"x":12.8,"y":-2.65},{"x":13.4,"y":-2.8},{"x":15.4,"y":-2.85},{"x":6,"y":-3.1},{"x":6.8,"y":-3.2},{"x":7.6,"y":-3.05},{"x":8.4,"y":-3.15},{"x":9.3,"y":-3.08},{"x":10.3,"y":-3.2},{"x":11.3,"y":-3.05},{"x":12.1,"y":-3.18},{"x":13,"y":-3.1},{"x":13.8,"y":-3.2},{"x":14.5,"y":-3.05},{"x":15.7,"y":-3.15},{"x":16.2,"y":-3.3},{"x":6.4,"y":-3.5},{"x":7.2,"y":-3.6},{"x":8,"y":-3.45},{"x":8.9,"y":-3.55},{"x":9.8,"y":-3.48},{"x":11.1,"y":-3.6},{"x":11.7,"y":-3.45},{"x":12.6,"y":-3.55},{"x":13.3,"y":-3.5},{"x":14,"y":-3.62},{"x":14.9,"y":-3.45},{"x":15.2,"y":-3.6},{"x":6.8,"y":-3.9},{"x":7.6,"y":-4},{"x":8.4,"y":-3.85},{"x":9.5,"y":-3.95},{"x":10.6,"y":-3.88},{"x":11.3,"y":-4},{"x":12.2,"y":-3.85},{"x":13.1,"y":-3.95},{"x":14.2,"y":-3.85},{"x":14.7,"y":-4},{"x":15.6,"y":-3.9},{"x":7.3,"y":-4.3},{"x":8.1,"y":-4.4},{"x":9,"y":-4.25},{"x":9.8,"y":-4.35},{"x":10.7,"y":-4.28},{"x":11.5,"y":-4.4},{"x":12.3,"y":-4.25},{"x":13.4,"y":-4.35},{"x":14,"y":-4.25},{"x":7.8,"y":-4.7},{"x":8.5,"y":-4.8},{"x":9.2,"y":-4.65},{"x":10,"y":-4.75},{"x":10.8,"y":-4.68},{"x":11.5,"y":-4.8},{"x":12,"y":-4.65},{"x":12.8,"y":-4.75},{"x":14.6,"y":-4.75},{"x":15.2,"y":-4.7},{"x":15.6,"y":-4.65},{"x":8,"y":-5.1},{"x":8.8,"y":-5.2},{"x":9.6,"y":-5.05},{"x":10.3,"y":-5.15},{"x":11,"y":-5.08},{"x":11.7,"y":-5.2},{"x":12.4,"y":-5.05},{"x":14.2,"y":-5.1},{"x":15,"y":-5.3},{"x":15.6,"y":-5.1},{"x":8.3,"y":-5.5},{"x":9.2,"y":-5.6},{"x":10,"y":-5.45},{"x":10.8,"y":-5.55},{"x":11.6,"y":-5.48},{"x":12.5,"y":-5.6},{"x":13,"y":-5.45},{"x":14.4,"y":-5.55},{"x":9.6,"y":-5.9},{"x":10.6,"y":-6},{"x":11.2,"y":-5.85},{"x":11.9,"y":-5.95},{"x":12.6,"y":-5.88},{"x":13.3,"y":-6},{"x":14,"y":-5.85},{"x":14.8,"y":-5.95},{"x":10.3,"y":-6.3},{"x":10.9,"y":-6.4},{"x":11.6,"y":-6.25},{"x":12.4,"y":-6.35},{"x":13,"y":-6.28},{"x":13.8,"y":-6.4},{"x":14.5,"y":-6.25},{"x":10,"y":-6.7},{"x":10.7,"y":-6.8},{"x":11.2,"y":-6.65},{"x":12,"y":-6.75},{"x":13.6,"y":-6.68},{"x":14.6,"y":-6.8},{"x":15.3,"y":-6.65},{"x":10.2,"y":-7.1},{"x":10.8,"y":-7.2},{"x":11.5,"y":-7.05},{"x":12.1,"y":-7.15},{"x":13.8,"y":-7.08},{"x":14.4,"y":-7.2},{"x":11.1,"y":-7.5},{"x":12.6,"y":-7.6},{"x":13,"y":-7.45},{"x":14.7,"y":-7.55},
{"x":3.9,"y":-0.5},{"x":5.8,"y":-0.45},{"x":7.5,"y":-0.5},{"x":8.9,"y":-0.55},{"x":4.9,"y":-1.35},{"x":6.5,"y":-0.95},{"x":7.3,"y":-0.9},{"x":8.4,"y":-1.4},{"x":9.4,"y":-0.95},{"x":5.3,"y":-1.75},{"x":6.9,"y":-1.75},{"x":7.9,"y":-1.72},{"x":8.9,"y":-1.8},{"x":9.9,"y":-1.6},{"x":6,"y":-2.15},{"x":7.2,"y":-2.15},{"x":8.1,"y":-2.1},{"x":9,"y":-2.15},{"x":10.5,"y":-1.75},{"x":11.2,"y":-2.3},{"x":6.3,"y":-2.55},{"x":7.5,"y":-2.5},{"x":8.5,"y":-2.55},{"x":9.7,"y":-2.55},{"x":11.1,"y":-2.55},{"x":12.3,"y":-2.5},{"x":6.7,"y":-2.95},{"x":7.9,"y":-2.95},{"x":8.9,"y":-2.9},{"x":9.8,"y":-3},{"x":10.8,"y":-3},{"x":12.5,"y":-2.95},{"x":6.9,"y":-3.35},{"x":8.4,"y":-3.35},{"x":9.3,"y":-3.3},{"x":10.4,"y":-3.4},{"x":12.2,"y":-3.35},{"x":13.7,"y":-3.4},{"x":7.3,"y":-3.75},{"x":8,"y":-3.8},{"x":9,"y":-3.75},{"x":10,"y":-3.75},{"x":11.8,"y":-3.75},{"x":12.7,"y":-3.75},{"x":13.6,"y":-3.75},{"x":7.7,"y":-4.15},{"x":8.6,"y":-4.15},{"x":9.4,"y":-4.15},{"x":10.3,"y":-4.1},{"x":11.1,"y":-4.15},{"x":11.9,"y":-4.1},{"x":12.8,"y":-4.15},{"x":8.2,"y":-4.55},{"x":8.9,"y":-4.5},{"x":9.6,"y":-4.55},{"x":10.4,"y":-4.5},{"x":11.2,"y":-4.55},{"x":8.5,"y":-4.95},{"x":9.2,"y":-5},{"x":10,"y":-4.95},{"x":10.7,"y":-4.9},{"x":11.4,"y":-5},{"x":9,"y":-5.35},{"x":9.9,"y":-5.3},{"x":10.4,"y":-5.35},{"x":11.2,"y":-5.3},{"x":12,"y":-5.35},{"x":10.1,"y":-5.75},{"x":10.9,"y":-5.75},{"x":11.5,"y":-5.7},{"x":12.2,"y":-5.7},{"x":10.5,"y":-6.15},{"x":11.2,"y":-6.1},{"x":12,"y":-6.1},{"x":10.4,"y":-6.55},{"x":11.5,"y":-6.55}],
"wO":[{"x":1.7,"y":7.3},{"x":4.5,"y":7.2},{"x":1.85,"y":6.6},{"x":2.05,"y":6.05},{"x":0.75,"y":5.7},{"x":2.7,"y":5.3},{"x":1.5,"y":5.25},{"x":4.6,"y":5.1},{"x":1.6,"y":4.9},{"x":0.55,"y":4.35},{"x":0.95,"y":4.5},{"x":1.8,"y":4.4},{"x":2.5,"y":4.35},{"x":2.3,"y":4.2},{"x":1.4,"y":4.1},{"x":5.3,"y":4.4},{"x":7.3,"y":4},{"x":5.9,"y":3.85},{"x":4.35,"y":3.6},{"x":0.65,"y":3.6},{"x":1.7,"y":3.7},{"x":2.1,"y":3.65},{"x":2.65,"y":3.7},{"x":8.2,"y":3.2},{"x":5.1,"y":3.05},{"x":10.2,"y":2.75},{"x":0.05,"y":3.1},{"x":0.4,"y":3.25},{"x":0.2,"y":2.95},{"x":0.7,"y":3.15},{"x":1.1,"y":2.95},{"x":1.6,"y":3.1},{"x":2.1,"y":3},{"x":2.8,"y":2.9},{"x":3.3,"y":2.75},{"x":4.2,"y":2.25},{"x":4.7,"y":2.25},{"x":6.5,"y":1.3},{"x":9.2,"y":0.75},{"x":6.3,"y":0.1},{"x":4.5,"y":1.4},{"x":5,"y":1.5},
{"x":0.5,"y":2.7},{"x":1.1,"y":2.7},{"x":1.6,"y":2.7},{"x":2.1,"y":2.7},{"x":2.6,"y":2.7},{"x":0.3,"y":2.45},{"x":0.85,"y":2.45},{"x":1.4,"y":2.45},{"x":1.9,"y":2.45},{"x":2.4,"y":2.45},{"x":0.35,"y":2.2},{"x":1,"y":2.2},{"x":1.5,"y":2.2},{"x":2,"y":2.2},{"x":2.5,"y":2.2},{"x":0.6,"y":1.95},{"x":1.2,"y":1.95},{"x":1.75,"y":1.95},{"x":2.3,"y":1.95},{"x":2.7,"y":1.95},{"x":0.9,"y":1.7},{"x":1.4,"y":1.7},{"x":1.9,"y":1.7},{"x":2.4,"y":1.7},{"x":1,"y":1.45},{"x":1.55,"y":1.45},{"x":2.1,"y":1.45},{"x":2.55,"y":1.45},{"x":1.2,"y":1.2},{"x":1.7,"y":1.2},{"x":2.2,"y":1.2},{"x":2.6,"y":1.2},{"x":1.5,"y":0.95},{"x":1.95,"y":0.95},{"x":2.4,"y":0.95},{"x":1.8,"y":0.7},{"x":2.3,"y":0.7},{"x":2.6,"y":0.7},{"x":2,"y":0.45},{"x":2.45,"y":0.45},{"x":2.3,"y":0.25}],
"wY":[{"x":15.8,"y":-11.1},{"x":11.6,"y":-8.35},{"x":14,"y":-8.25},{"x":10,"y":-8.4},{"x":9.4,"y":-8.3},{"x":9.3,"y":-8},{"x":7.9,"y":-7.45},{"x":8.65,"y":-7},{"x":9.1,"y":-6.8},{"x":9.8,"y":-7.3},{"x":13.4,"y":-6.8},{"x":13.9,"y":-6.45},{"x":18.3,"y":-6.9},{"x":14.3,"y":-5.75},{"x":14.3,"y":-5.1},{"x":14.9,"y":-4.2},{"x":11.1,"y":-3.85},{"x":8.5,"y":-2.05},{"x":12.5,"y":-1.35},{"x":13.1,"y":-7.55},{"x":12.4,"y":-7.2},{"x":10.8,"y":-6.4},{"x":9.2,"y":-5.65},{"x":13.2,"y":-4.55},{"x":9.75,"y":-3.95},{"x":8.4,"y":-2.9},{"x":7.5,"y":-2.3},
{"x":2.3,"y":-0.1},{"x":2.8,"y":-0.1},{"x":2.4,"y":-0.35},{"x":2.95,"y":-0.35},{"x":2.25,"y":-0.6},{"x":2.8,"y":-0.6},{"x":3.25,"y":-0.6},{"x":2.4,"y":-0.85},{"x":2.95,"y":-0.85},{"x":3.5,"y":-0.85},{"x":2.25,"y":-1.1},{"x":2.8,"y":-1.1},{"x":3.35,"y":-1.1},{"x":3.8,"y":-1.1},{"x":2.4,"y":-1.35},{"x":2.95,"y":-1.35},{"x":3.5,"y":-1.35},{"x":4,"y":-1.35},{"x":2.25,"y":-1.6},{"x":2.8,"y":-1.6},{"x":3.35,"y":-1.6},{"x":3.9,"y":-1.6},{"x":4.3,"y":-1.6},{"x":2.4,"y":-1.85},{"x":2.95,"y":-1.85},{"x":3.5,"y":-1.85},{"x":4.05,"y":-1.85},{"x":4.6,"y":-1.85},{"x":2.25,"y":-2.1},{"x":2.8,"y":-2.1},{"x":3.35,"y":-2.1},{"x":3.9,"y":-2.1},{"x":4.45,"y":-2.1},{"x":4.9,"y":-2.1},{"x":2.4,"y":-2.35},{"x":2.95,"y":-2.35},{"x":3.5,"y":-2.35},{"x":4.05,"y":-2.35},{"x":4.6,"y":-2.35},{"x":5.1,"y":-2.35},{"x":2.4,"y":-2.6},{"x":2.95,"y":-2.6},{"x":3.5,"y":-2.6},{"x":4.05,"y":-2.6},{"x":4.6,"y":-2.6},{"x":5.15,"y":-2.6},{"x":2.6,"y":-2.85},{"x":3.15,"y":-2.85},{"x":3.7,"y":-2.85},{"x":4.25,"y":-2.85},{"x":4.8,"y":-2.85},{"x":5.35,"y":-2.85},{"x":2.8,"y":-3.1},{"x":3.35,"y":-3.1},{"x":3.9,"y":-3.1},{"x":4.45,"y":-3.1},{"x":5,"y":-3.1},{"x":5.55,"y":-3.1},{"x":3,"y":-3.35},{"x":3.55,"y":-3.35},{"x":4.1,"y":-3.35},{"x":4.65,"y":-3.35},{"x":5.2,"y":-3.35},{"x":5.75,"y":-3.35},{"x":3.2,"y":-3.6},{"x":3.75,"y":-3.6},{"x":4.3,"y":-3.6},{"x":4.85,"y":-3.6},{"x":5.4,"y":-3.6},{"x":5.95,"y":-3.6},{"x":3.5,"y":-3.85},{"x":4.05,"y":-3.85},{"x":4.6,"y":-3.85},{"x":5.15,"y":-3.85},{"x":5.7,"y":-3.85},{"x":6.25,"y":-3.85},{"x":3.8,"y":-4.1},{"x":4.35,"y":-4.1},{"x":4.9,"y":-4.1},{"x":5.45,"y":-4.1},{"x":6,"y":-4.1},{"x":6.55,"y":-4.1},{"x":4.3,"y":-4.35},{"x":4.85,"y":-4.35},{"x":5.4,"y":-4.35},{"x":5.95,"y":-4.35},{"x":6.5,"y":-4.35},{"x":7.05,"y":-4.35},{"x":4.6,"y":-4.6},{"x":5.15,"y":-4.6},{"x":5.7,"y":-4.6},{"x":6.25,"y":-4.6},{"x":6.8,"y":-4.6},{"x":7.35,"y":-4.6},{"x":5.2,"y":-4.85},{"x":5.75,"y":-4.85},{"x":6.3,"y":-4.85},{"x":6.85,"y":-4.85},{"x":7.4,"y":-4.85},{"x":7.95,"y":-4.85},{"x":5.4,"y":-5.1},{"x":5.95,"y":-5.1},{"x":6.5,"y":-5.1},{"x":7.05,"y":-5.1},{"x":7.6,"y":-5.1},{"x":8.2,"y":-5.1},{"x":5.6,"y":-5.35},{"x":6.1,"y":-5.35},{"x":6.7,"y":-5.35},{"x":7.3,"y":-5.35},{"x":5.9,"y":-5.6},{"x":6.5,"y":-5.6},{"x":7.1,"y":-5.6},{"x":7.6,"y":-5.6},{"x":6.1,"y":-5.85},{"x":6.7,"y":-5.85},{"x":7.3,"y":-5.85},{"x":7.9,"y":-5.85},{"x":8.3,"y":-5.85},{"x":6.4,"y":-6.1},{"x":6.9,"y":-6.1},{"x":7.5,"y":-6.1},{"x":8.1,"y":-6.1},{"x":8.6,"y":-6.1},{"x":6.7,"y":-6.35},{"x":7.3,"y":-6.35},{"x":8.1,"y":-6.35},{"x":8.5,"y":-6.35},{"x":7,"y":-6.55}],
"wT":[{"x":9.9,"y":9.5},{"x":9.5,"y":7.45},{"x":10,"y":7.35},{"x":10.5,"y":7.1},{"x":6.1,"y":6.3},{"x":7.4,"y":5.65},{"x":11.5,"y":5.7},{"x":12,"y":5},{"x":13,"y":4.85},{"x":9.8,"y":5.1},{"x":6,"y":4.85},{"x":8.2,"y":4.8},{"x":18,"y":5.6},{"x":19.5,"y":4.85},{"x":19.5,"y":4.6},{"x":3.5,"y":4.75},{"x":3.2,"y":4.2},{"x":3.7,"y":4.3},{"x":4.4,"y":4.3},{"x":4.5,"y":4.35},{"x":6.3,"y":4},{"x":7.3,"y":4.2},{"x":8.3,"y":4.35},{"x":8.7,"y":3.85},{"x":11.2,"y":3.85},{"x":10.1,"y":3.75},{"x":9.4,"y":3.55},{"x":8.4,"y":3.5},{"x":12.4,"y":3.6},{"x":16.2,"y":3.65},{"x":15.8,"y":3.4},{"x":15.7,"y":3.3},{"x":18,"y":3.7},{"x":23.8,"y":3.65},{"x":22.4,"y":3.2},{"x":22.3,"y":2.85},{"x":22,"y":2.75},{"x":27.1,"y":2.75},{"x":23.6,"y":2.4},{"x":23.3,"y":2.15},{"x":24.3,"y":2.1},{"x":28.4,"y":2.05},{"x":26.9,"y":1.85},{"x":21.5,"y":1.75},{"x":32.2,"y":1.7},{"x":25.8,"y":1.25},{"x":27.2,"y":1.3},{"x":33.6,"y":1.1},{"x":19.7,"y":2.6},{"x":20.2,"y":2.2},{"x":18.1,"y":2.85},{"x":16,"y":2.8},{"x":16.9,"y":2.7},{"x":13.8,"y":2.95},{"x":13.9,"y":2.8},{"x":14.1,"y":2.5},{"x":14.3,"y":2.2},{"x":14.6,"y":2.1},{"x":13.3,"y":1.9},{"x":12.7,"y":1.7},{"x":14.8,"y":1.6},{"x":15.7,"y":1.7},{"x":17.2,"y":1.65},{"x":18.1,"y":1.95},{"x":18,"y":1.4},{"x":19,"y":1.2},{"x":19.5,"y":1.3},{"x":16.9,"y":1.05},{"x":15.8,"y":1.05},{"x":14.6,"y":0.75},{"x":13.8,"y":1.3},{"x":12.8,"y":1.2},{"x":11.7,"y":1.05},{"x":18.4,"y":0.8},{"x":18.2,"y":0.55},{"x":16,"y":0.55},{"x":14.1,"y":0.55},{"x":12.7,"y":0.4},{"x":13.4,"y":0.35},{"x":17.2,"y":0.25},{"x":15.5,"y":0.15},{"x":19.7,"y":0},{"x":20.3,"y":0},{"x":30.2,"y":0.25},{"x":16.4,"y":-0.3},{"x":17.2,"y":-0.2},{"x":18.3,"y":-0.6},{"x":18.8,"y":-0.8},{"x":20.5,"y":-0.3},{"x":21.4,"y":-0.5},{"x":24.9,"y":-0.6},{"x":20.9,"y":-0.95},{"x":22.6,"y":-1},{"x":23.3,"y":-0.9},{"x":26.9,"y":-1},{"x":26.4,"y":-1.4},{"x":27.5,"y":-1.4},{"x":28.6,"y":-0.95},{"x":32,"y":-1.25},{"x":40,"y":-0.3},{"x":20.2,"y":-1.4},{"x":20.8,"y":-1.75},{"x":23.8,"y":-1.7},{"x":28.3,"y":-2},{"x":35.2,"y":-2},{"x":28.2,"y":-2.2},{"x":27.4,"y":-2.3},{"x":28.1,"y":-2.55},{"x":23.3,"y":-2.4},{"x":19.7,"y":-2.25},{"x":21,"y":-2.55},{"x":19,"y":-2.95},{"x":21.5,"y":-3},{"x":25.8,"y":-2.65},{"x":25.4,"y":-3.05},{"x":26.6,"y":-2.7},{"x":26.9,"y":-2.85},{"x":23.3,"y":-3.2},{"x":23.5,"y":-3.4},{"x":32.4,"y":-3.1},{"x":34.1,"y":-3},{"x":36.9,"y":-3.2},{"x":37.5,"y":-3.3},{"x":26.7,"y":-3.45},{"x":20.8,"y":-3.4},{"x":25.5,"y":-3.95},{"x":33.4,"y":-3.95},{"x":30.7,"y":-3.95},{"x":30.5,"y":-4},{"x":30.2,"y":-4.35},{"x":38.5,"y":-4.4},{"x":38.6,"y":-4.7},{"x":22.4,"y":-4.2},{"x":20.5,"y":-4},{"x":20.5,"y":-4.35},{"x":21.5,"y":-4.5},{"x":20.6,"y":-4.7},{"x":22.8,"y":-4.65},{"x":25.7,"y":-4.75},{"x":28.3,"y":-4.95},{"x":19.5,"y":-4.35},{"x":18.4,"y":-4.2},{"x":19,"y":-4.6},{"x":21.1,"y":-5.4},{"x":21.5,"y":-5.25},{"x":19.8,"y":-5.55},{"x":18.8,"y":-5.55},{"x":18.4,"y":-5.5},{"x":17.8,"y":-5.65},{"x":16.5,"y":-5.4},{"x":24.6,"y":-5.55},{"x":30.5,"y":-5.6},{"x":23,"y":-5.8},{"x":23.2,"y":-6.15},{"x":26.6,"y":-6.1},{"x":32.1,"y":-5.95},{"x":24.9,"y":-6.25},{"x":24.5,"y":-6.4},{"x":22.3,"y":-6.4},{"x":27.3,"y":-6.3},{"x":26.9,"y":-6.5},{"x":27.9,"y":-6.55},{"x":29,"y":-6.95},{"x":20.5,"y":-6.7},{"x":18,"y":-6.3},{"x":18,"y":-6.35},{"x":17.2,"y":-6.45},{"x":15.7,"y":-6.5},{"x":22.6,"y":-7.4},{"x":26.7,"y":-7.35},{"x":27.5,"y":-7.25},{"x":36,"y":-7.3},{"x":20.2,"y":-7.6},{"x":17.4,"y":-7.55},{"x":17.8,"y":-7.3},{"x":15.7,"y":-7.65},{"x":16.4,"y":-7.85},{"x":15,"y":-7.8},{"x":14.4,"y":-7.45},{"x":17.8,"y":-8.3},{"x":18.2,"y":-8.25},{"x":23.7,"y":-8.3},{"x":16,"y":-8.65},{"x":16.9,"y":-8.9},{"x":12.5,"y":-9.45},{"x":19.9,"y":-9.35},{"x":20.6,"y":-10},{"x":20.2,"y":-10.35},{"x":23.1,"y":-11},{"x":25,"y":-11.7},{"x":11.8,"y":-7.5},{"x":11.3,"y":-7.65},{"x":11.5,"y":-8},{"x":12.4,"y":-7.2},{"x":13.1,"y":-7.1},{"x":14.3,"y":-6.9},{"x":13.9,"y":-6.4},{"x":15,"y":-6.35},{"x":12.5,"y":-6.6},{"x":11.8,"y":-7},{"x":10.1,"y":-6.1},{"x":9.9,"y":-6.9},{"x":9.2,"y":-6.6},{"x":8.7,"y":-6},{"x":10.5,"y":-5.35},{"x":11.8,"y":-5.65},{"x":13.2,"y":-5.55},{"x":14.1,"y":-5.1},{"x":15.3,"y":-5.1},{"x":14.4,"y":-4.7},{"x":13.6,"y":-4.5},{"x":12.5,"y":-4.8},
{"x":3.3,"y":2.9},{"x":4.1,"y":3},{"x":5.9,"y":2.85},{"x":3,"y":2.6},{"x":3.9,"y":2.7},{"x":5,"y":2.55},{"x":5.8,"y":2.65},{"x":6.3,"y":2.55},{"x":6.9,"y":2.65},{"x":7.5,"y":2.55},{"x":8.1,"y":2.62},{"x":11.2,"y":2.6},{"x":11.8,"y":2.55},{"x":12.4,"y":2.62},{"x":3.6,"y":2.2},{"x":4.5,"y":2.3},{"x":5.4,"y":2.15},{"x":6.2,"y":2.25},{"x":7,"y":2.1},{"x":7.6,"y":2.25},{"x":8.4,"y":2.15},{"x":9,"y":2.28},{"x":11,"y":2.2},{"x":3.1,"y":1.8},{"x":4.1,"y":1.9},{"x":5,"y":1.75},{"x":5.7,"y":1.85},{"x":6.4,"y":1.75},{"x":7.2,"y":1.88},{"x":8,"y":1.72},{"x":8.7,"y":1.85},{"x":9.5,"y":1.7},{"x":10.3,"y":1.85},{"x":11,"y":1.75},{"x":11.7,"y":1.85},{"x":3.4,"y":1.4},{"x":4.3,"y":1.5},{"x":5.1,"y":1.35},{"x":6,"y":1.45},{"x":6.9,"y":1.35},{"x":7.5,"y":1.48},{"x":8.3,"y":1.35},{"x":9.1,"y":1.45},{"x":9.9,"y":1.32},{"x":10.6,"y":1.45},{"x":11.6,"y":1.35},{"x":3,"y":1},{"x":3.9,"y":1.1},{"x":4.8,"y":0.95},{"x":5.6,"y":1.05},{"x":6.5,"y":0.95},{"x":7.3,"y":1.08},{"x":8,"y":0.95},{"x":8.8,"y":1.05},{"x":9.4,"y":0.92},{"x":10.1,"y":1.05},{"x":11,"y":0.95},{"x":12,"y":1.05},{"x":3.3,"y":0.6},{"x":4.2,"y":0.7},{"x":5.1,"y":0.55},{"x":6.1,"y":0.65},{"x":6.9,"y":0.55},{"x":7.7,"y":0.68},{"x":8.6,"y":0.55},{"x":9.2,"y":0.65},{"x":10.2,"y":0.52},{"x":11.2,"y":0.65},{"x":12.1,"y":0.55},{"x":3.1,"y":0.2},{"x":3.9,"y":0.3},{"x":4.7,"y":0.15},{"x":5.4,"y":0.25},{"x":6.7,"y":0.15},{"x":7.5,"y":0.28},{"x":8.3,"y":0.15},{"x":9,"y":0.25},{"x":9.7,"y":0.12},{"x":10.7,"y":0.25},{"x":11.4,"y":0.15},{"x":3.5,"y":-0.2},{"x":4.6,"y":-0.3},{"x":5.6,"y":-0.15},{"x":6.8,"y":-0.25},{"x":7.4,"y":-0.15},{"x":8.5,"y":-0.28},{"x":9.2,"y":-0.15},{"x":10,"y":-0.25},{"x":10.9,"y":-0.12},{"x":11.8,"y":-0.25},{"x":13.1,"y":-0.15},{"x":14.2,"y":-0.25},{"x":3.9,"y":-0.6},{"x":4.8,"y":-0.7},{"x":5.9,"y":-0.55},{"x":6.9,"y":-0.65},{"x":7.6,"y":-0.55},{"x":8.8,"y":-0.68},{"x":9.6,"y":-0.55},{"x":10.3,"y":-0.65},{"x":11.3,"y":-0.52},{"x":12.2,"y":-0.65},{"x":13.5,"y":-0.55},{"x":4.3,"y":-1},{"x":5.4,"y":-1.1},{"x":6.3,"y":-0.95},{"x":7.2,"y":-1.05},{"x":8,"y":-0.95},{"x":9,"y":-1.08},{"x":9.9,"y":-0.95},{"x":10.7,"y":-1.05},{"x":11.6,"y":-0.92},{"x":12.1,"y":-1.05},{"x":13.2,"y":-0.95},{"x":14.6,"y":-1.05},{"x":15.6,"y":-0.95},{"x":4.5,"y":-1.4},{"x":5.6,"y":-1.5},{"x":6.5,"y":-1.35},{"x":7.4,"y":-1.45},{"x":8.4,"y":-1.35},{"x":9.3,"y":-1.48},{"x":10.1,"y":-1.35},{"x":11,"y":-1.45},{"x":11.9,"y":-1.32},{"x":12.7,"y":-1.45},{"x":14,"y":-1.35},{"x":15.1,"y":-1.45},{"x":16.5,"y":-1.35},{"x":4.9,"y":-1.8},{"x":5.9,"y":-1.9},{"x":6.8,"y":-1.75},{"x":7.8,"y":-1.85},{"x":8.8,"y":-1.75},{"x":9.6,"y":-1.88},{"x":10.4,"y":-1.75},{"x":11.4,"y":-1.85},{"x":12.1,"y":-1.72},{"x":13.3,"y":-1.85},{"x":14.4,"y":-1.75},{"x":15.4,"y":-1.85},{"x":16.9,"y":-1.75},{"x":17.6,"y":-1.85},{"x":5.2,"y":-2.2},{"x":6.1,"y":-2.3},{"x":7,"y":-2.15},{"x":8,"y":-2.25},{"x":8.9,"y":-2.15},{"x":9.8,"y":-2.28},{"x":10.8,"y":-2.15},{"x":11.6,"y":-2.25},{"x":12.4,"y":-2.12},{"x":13.1,"y":-2.25},{"x":14.8,"y":-2.15},{"x":16.2,"y":-2.25},{"x":17,"y":-2.15},{"x":5.6,"y":-2.6},{"x":6.4,"y":-2.7},{"x":7.4,"y":-2.55},{"x":8.3,"y":-2.65},{"x":9.3,"y":-2.55},{"x":10.3,"y":-2.68},{"x":11.1,"y":-2.55},{"x":12,"y":-2.65},{"x":12.9,"y":-2.52},{"x":13.7,"y":-2.65},{"x":14.7,"y":-2.55},{"x":15.5,"y":-2.65},{"x":16.8,"y":-2.55},{"x":18.2,"y":-2.65},{"x":5.9,"y":-3},{"x":6.8,"y":-3.1},{"x":7.6,"y":-2.95},{"x":8.8,"y":-3.05},{"x":9.7,"y":-2.95},{"x":10.6,"y":-3.08},{"x":11.4,"y":-2.95},{"x":12.6,"y":-3.05},{"x":13.4,"y":-2.92},{"x":14.4,"y":-3.05},{"x":15.2,"y":-2.95},{"x":16.1,"y":-3.05},{"x":16.7,"y":-2.95},{"x":18.7,"y":-3.05},{"x":6.2,"y":-3.4},{"x":7.1,"y":-3.5},{"x":8,"y":-3.35},{"x":9,"y":-3.45},{"x":9.9,"y":-3.35},{"x":10.8,"y":-3.48},{"x":11.8,"y":-3.35},{"x":12.7,"y":-3.45},{"x":13.7,"y":-3.32},{"x":14.6,"y":-3.45},{"x":15.3,"y":-3.35},{"x":16.4,"y":-3.45},{"x":18.8,"y":-3.35},{"x":6.8,"y":-3.8},{"x":7.7,"y":-3.9},{"x":8.7,"y":-3.75},{"x":9.4,"y":-3.85},{"x":10.3,"y":-3.75},{"x":11.3,"y":-3.88},{"x":12.3,"y":-3.75},{"x":13,"y":-3.85},{"x":14.1,"y":-3.72},{"x":15,"y":-3.85},{"x":16.6,"y":-3.75},{"x":17.9,"y":-3.85},{"x":7.4,"y":-4.2},{"x":8.3,"y":-4.3},{"x":9.1,"y":-4.15},{"x":10,"y":-4.25},{"x":10.9,"y":-4.15},{"x":11.9,"y":-4.28},{"x":12.8,"y":-4.15},{"x":13.6,"y":-4.25},{"x":15.6,"y":-4.15},{"x":17,"y":-4.25},{"x":18.2,"y":-4.15},{"x":8,"y":-4.6},{"x":8.9,"y":-4.7},{"x":9.7,"y":-4.55},{"x":10.6,"y":-4.65},{"x":11.4,"y":-4.55},{"x":12.1,"y":-4.68},{"x":13,"y":-4.55},{"x":14,"y":-4.65},{"x":15,"y":-4.55},{"x":16.2,"y":-4.65},{"x":16.8,"y":-4.55},{"x":8.6,"y":-5},{"x":9.4,"y":-5.1},{"x":10.2,"y":-4.95},{"x":11,"y":-5.05},{"x":11.9,"y":-4.95},{"x":12.6,"y":-5.08},{"x":13.4,"y":-4.95},{"x":14.8,"y":-5.05},{"x":9.3,"y":-5.4},{"x":10,"y":-5.5},{"x":11.2,"y":-5.35},{"x":12.2,"y":-5.45},{"x":13.1,"y":-5.35},{"x":9.6,"y":-5.8},{"x":10.9,"y":-5.9},{"x":11.6,"y":-5.75},{"x":12.3,"y":-5.85},{"x":13,"y":-5.75},{"x":14.1,"y":-5.88},{"x":9.5,"y":-6.3},{"x":10.4,"y":-6.4},{"x":11.3,"y":-6.25},{"x":12.8,"y":-6.35},{"x":14.7,"y":-6.25},{"x":11,"y":-6.8},{"x":12.1,"y":-6.9},{"x":13,"y":-6.75},{"x":14.9,"y":-6.85},
{"x":3.4,"y":2.45},{"x":4.3,"y":2.1},{"x":5,"y":2.1},{"x":5.8,"y":2},{"x":6.7,"y":1.6},{"x":7.6,"y":1.55},{"x":4.6,"y":1.2},{"x":5.5,"y":1.2},{"x":6.3,"y":1.2},{"x":7,"y":1.15},{"x":7.8,"y":1.15},{"x":8.6,"y":1.2},{"x":3.7,"y":0.85},{"x":4.5,"y":0.85},{"x":5.3,"y":0.8},{"x":6.1,"y":0.8},{"x":7,"y":0.8},{"x":7.9,"y":0.75},{"x":8.4,"y":0.8},{"x":3.6,"y":0.4},{"x":4.6,"y":0.4},{"x":5.6,"y":0.4},{"x":7.3,"y":0.4},{"x":8,"y":0.4},{"x":8.9,"y":0.4},{"x":4.1,"y":0},{"x":5.1,"y":-0.05},{"x":6.2,"y":-0.05},{"x":7.1,"y":-0.1},{"x":8,"y":-0.05},{"x":8.9,"y":-0.1},{"x":9.7,"y":-0.1},{"x":4.4,"y":-0.45},{"x":5.3,"y":-0.4},{"x":6.4,"y":-0.4},{"x":7.2,"y":-0.45},{"x":8.2,"y":-0.45},{"x":9.1,"y":-0.45},{"x":5,"y":-0.85},{"x":5.9,"y":-0.85},{"x":6.8,"y":-0.85},{"x":7.6,"y":-0.85},{"x":8.5,"y":-0.85},{"x":9.4,"y":-0.8},{"x":10.3,"y":-0.9},{"x":5.1,"y":-1.25},{"x":6,"y":-1.25},{"x":7,"y":-1.25},{"x":7.9,"y":-1.2},{"x":8.9,"y":-1.25},{"x":9.8,"y":-1.25},{"x":10.6,"y":-1.25},{"x":5.4,"y":-1.65},{"x":6.3,"y":-1.6},{"x":7.3,"y":-1.65},{"x":8.3,"y":-1.6},{"x":9.2,"y":-1.65},{"x":10,"y":-1.6},{"x":11,"y":-1.65},{"x":5.7,"y":-2.05},{"x":6.6,"y":-2.05},{"x":7.5,"y":-2.05},{"x":8.5,"y":-2},{"x":9.4,"y":-2.05},{"x":10.3,"y":-2},{"x":11.2,"y":-2.05},{"x":6.9,"y":-2.4},{"x":7.8,"y":-2.45},{"x":8.8,"y":-2.4},{"x":9.8,"y":-2.45},{"x":10.7,"y":-2.4},{"x":11.6,"y":-2.45},{"x":7.2,"y":-2.85},{"x":8.2,"y":-2.8},{"x":9.2,"y":-2.85},{"x":10.1,"y":-2.8},{"x":11,"y":-2.85},{"x":12.3,"y":-2.85},{"x":7.5,"y":-3.25},{"x":8.5,"y":-3.2},{"x":9.5,"y":-3.25},{"x":10.4,"y":-3.2},{"x":11.3,"y":-3.25},{"x":12.3,"y":-3.2},{"x":13.2,"y":-3.25},{"x":8.2,"y":-3.65},{"x":9,"y":-3.6},{"x":9.9,"y":-3.6},{"x":10.8,"y":-3.65},{"x":11.8,"y":-3.6},{"x":12.7,"y":-3.65}]
},
"concat":[
{"width":672,"height":629,"layer":[
{"data":{"name":"vS"},"mark":{"type":"area","orient":"horizontal","interpolate":"monotone","stroke":"black","strokeWidth":2.5},"encoding":{"x":{"field":"lo","type":"quantitative","scale":{"domain":[0.405,7.347]},"axis":{"orient":"bottom","title":null,"domain":false,"values":[1,2,3.376,4.376,5.753,6.753],"labelExpr":"indexof([1,3.376,5.753],datum.value)>=0?'Young':'Old'","labelFontWeight":"bold","labelFontSize":30,"labelPadding":4}},"x2":{"field":"hi"},"y":{"field":"value","type":"quantitative","scale":{"domain":[-6.35,42.92]},"axis":{"orient":"left","domain":false,"values":[0,10,20,30,40],"labelFontSize":33,"labelPadding":7,"title":"−log10 (p.Value)","titleFontSize":33.5,"titleX":-85.5,"titleY":290,"titleBaseline":"middle"}},"color":{"field":"group","type":"nominal","legend":null,"scale":{"domain":["CY","CO","YY","YO","OY","OO"],"range":["#00AFBB","#00AFBB","#E7B800","#E7B800","#FC4E07","#FC4E07"]}}}},
{"data":{"name":"bS"},"mark":{"type":"rule","color":"black","strokeWidth":2.5},"encoding":{"x":{"field":"pos","type":"quantitative","scale":{"domain":[0.405,7.347]}},"y":{"field":"low","type":"quantitative","scale":{"domain":[-6.35,42.92]}},"y2":{"field":"high"}}},
{"data":{"name":"bS"},"mark":{"type":"bar","width":19,"fill":"white","stroke":"black","strokeWidth":2.5},"encoding":{"x":{"field":"pos","type":"quantitative","scale":{"domain":[0.405,7.347]}},"y":{"field":"q1","type":"quantitative","scale":{"domain":[-6.35,42.92]}},"y2":{"field":"q3"}}},
{"data":{"name":"bS"},"mark":{"type":"tick","orient":"horizontal","size":19,"thickness":4,"color":"black","opacity":1},"encoding":{"x":{"field":"pos","type":"quantitative","scale":{"domain":[0.405,7.347]}},"y":{"field":"median","type":"quantitative","scale":{"domain":[-6.35,42.92]}}}},
{"data":{"name":"oS"},"mark":{"type":"circle","size":150,"color":"black","opacity":1},"encoding":{"x":{"field":"pos","type":"quantitative","scale":{"domain":[0.405,7.347]}},"y":{"field":"value","type":"quantitative","scale":{"domain":[-6.35,42.92]}}}},
{"data":{"name":"strips"},"mark":{"type":"rect","color":"#993404"},"encoding":{"x":{"field":"from","type":"quantitative","scale":{"domain":[0.405,7.347]}},"x2":{"field":"to"},"y":{"datum":-2.02,"scale":{"domain":[-6.35,42.92]}},"y2":{"datum":-6.24}}},
{"data":{"name":"strips"},"mark":{"type":"rule","color":"black","strokeWidth":2.5},"encoding":{"x":{"field":"a0","type":"quantitative","scale":{"domain":[0.405,7.347]}},"x2":{"field":"a1"},"y":{"datum":-6.35,"scale":{"domain":[-6.35,42.92]}}}},
{"data":{"values":[{"axis":"y"}]},"mark":{"type":"rule","color":"black","strokeWidth":2.5},"encoding":{"x":{"datum":0.405,"scale":{"domain":[0.405,7.347]}},"y":{"datum":-1.79,"scale":{"domain":[-6.35,42.92]}},"y2":{"datum":42.92}}},
{"data":{"name":"strips"},"mark":{"type":"text","color":"white","fontWeight":"bold","fontSize":32.6,"baseline":"middle"},"encoding":{"x":{"field":"mid","type":"quantitative","scale":{"domain":[0.405,7.347]}},"y":{"datum":-4.18,"scale":{"domain":[-6.35,42.92]}},"text":{"field":"class"}}},
{"data":{"name":"strips"},"mark":{"type":"text","color":"black","fontSize":30,"baseline":"middle"},"encoding":{"x":{"field":"sx","type":"quantitative","scale":{"domain":[0.405,7.347]}},"y":{"datum":39.95,"scale":{"domain":[-6.35,42.92]}},"text":{"field":"stars"}}},
{"data":{"values":[{"label":"(a)"}]},"mark":{"type":"text","color":"black","fontWeight":"bold","fontSize":32,"baseline":"middle"},"encoding":{"x":{"datum":-0.343,"scale":{"domain":[0.405,7.347]}},"y":{"datum":45,"scale":{"domain":[-6.35,42.92]}},"text":{"field":"label"}}},
{"data":{"values":[{"label":"Sleep genes"}]},"mark":{"type":"text","color":"black","fontWeight":"bold","fontSize":39,"baseline":"middle"},"encoding":{"x":{"datum":3.862,"scale":{"domain":[0.405,7.347]}},"y":{"datum":45.53,"scale":{"domain":[-6.35,42.92]}},"text":{"field":"label"}}}
]},
{"width":672,"height":629,"layer":[
{"data":{"name":"vW"},"mark":{"type":"area","orient":"horizontal","interpolate":"monotone","stroke":"black","strokeWidth":2.5},"encoding":{"x":{"field":"lo","type":"quantitative","scale":{"domain":[0.405,7.347]},"axis":{"orient":"bottom","title":null,"domain":false,"values":[1,2,3.376,4.376,5.753,6.753],"labelExpr":"indexof([1,3.376,5.753],datum.value)>=0?'Young':'Old'","labelFontWeight":"bold","labelFontSize":30,"labelPadding":4}},"x2":{"field":"hi"},"y":{"field":"value","type":"quantitative","scale":{"domain":[-6.97,44.7]},"axis":{"orient":"left","domain":false,"values":[0,10,20,30,40],"labelFontSize":33,"labelPadding":7,"title":"−log10 (p.Value)","titleFontSize":33.5,"titleX":-85.5,"titleY":290,"titleBaseline":"middle"}},"color":{"field":"group","type":"nominal","legend":null,"scale":{"domain":["CY","CO","YY","YO","OY","OO"],"range":["#00AFBB","#00AFBB","#E7B800","#E7B800","#FC4E07","#FC4E07"]}}}},
{"data":{"name":"bW"},"mark":{"type":"rule","color":"black","strokeWidth":2.5},"encoding":{"x":{"field":"pos","type":"quantitative","scale":{"domain":[0.405,7.347]}},"y":{"field":"low","type":"quantitative","scale":{"domain":[-6.97,44.7]}},"y2":{"field":"high"}}},
{"data":{"name":"bW"},"mark":{"type":"bar","width":19,"fill":"white","stroke":"black","strokeWidth":2.5},"encoding":{"x":{"field":"pos","type":"quantitative","scale":{"domain":[0.405,7.347]}},"y":{"field":"q1","type":"quantitative","scale":{"domain":[-6.97,44.7]}},"y2":{"field":"q3"}}},
{"data":{"name":"bW"},"mark":{"type":"tick","orient":"horizontal","size":19,"thickness":4,"color":"black","opacity":1},"encoding":{"x":{"field":"pos","type":"quantitative","scale":{"domain":[0.405,7.347]}},"y":{"field":"median","type":"quantitative","scale":{"domain":[-6.97,44.7]}}}},
{"data":{"name":"oW"},"mark":{"type":"circle","size":150,"color":"black","opacity":1},"encoding":{"x":{"field":"pos","type":"quantitative","scale":{"domain":[0.405,7.347]}},"y":{"field":"value","type":"quantitative","scale":{"domain":[-6.97,44.7]}}}},
{"data":{"name":"strips"},"mark":{"type":"rect","color":"#045A8D"},"encoding":{"x":{"field":"from","type":"quantitative","scale":{"domain":[0.405,7.347]}},"x2":{"field":"to"},"y":{"datum":-2.43,"scale":{"domain":[-6.97,44.7]}},"y2":{"datum":-6.85}}},
{"data":{"name":"strips"},"mark":{"type":"rule","color":"black","strokeWidth":2.5},"encoding":{"x":{"field":"a0","type":"quantitative","scale":{"domain":[0.405,7.347]}},"x2":{"field":"a1"},"y":{"datum":-6.97,"scale":{"domain":[-6.97,44.7]}}}},
{"data":{"values":[{"axis":"y"}]},"mark":{"type":"rule","color":"black","strokeWidth":2.5},"encoding":{"x":{"datum":0.405,"scale":{"domain":[0.405,7.347]}},"y":{"datum":-2.19,"scale":{"domain":[-6.97,44.7]}},"y2":{"datum":44.7}}},
{"data":{"name":"strips"},"mark":{"type":"text","color":"white","fontWeight":"bold","fontSize":32.6,"baseline":"middle"},"encoding":{"x":{"field":"mid","type":"quantitative","scale":{"domain":[0.405,7.347]}},"y":{"datum":-4.7,"scale":{"domain":[-6.97,44.7]}},"text":{"field":"class"}}},
{"data":{"name":"strips"},"mark":{"type":"text","color":"black","fontSize":30,"baseline":"middle"},"encoding":{"x":{"field":"sx","type":"quantitative","scale":{"domain":[0.405,7.347]}},"y":{"datum":40.16,"scale":{"domain":[-6.97,44.7]}},"text":{"field":"stars"}}},
{"data":{"values":[{"label":"Wake genes"}]},"mark":{"type":"text","color":"black","fontWeight":"bold","fontSize":39,"baseline":"middle"},"encoding":{"x":{"datum":3.845,"scale":{"domain":[0.405,7.347]}},"y":{"datum":47.43,"scale":{"domain":[-6.97,44.7]}},"text":{"field":"label"}}}
]},
{"width":672,"height":810,"resolve":{"scale":{"x":"independent","y":"independent"},"axis":{"x":"independent","y":"independent"}},"layer":[
{"layer":[
{"data":{"name":"sO"},"mark":{"type":"circle","size":100,"color":"#FC4E07","opacity":1},"encoding":{"x":{"field":"x","type":"quantitative","scale":{"domain":[-3.42,40.91]},"axis":{"orient":"bottom","domain":false,"values":[0,10,20,30,40],"labelFontSize":31,"labelPadding":6,"title":"−log₁₀ p-values of young mice","titleFontSize":38.5,"titleX":341.5,"titleY":84,"titleBaseline":"middle"}},"y":{"field":"y","type":"quantitative","scale":{"domain":[-13.22,13.2]},"axis":{"orient":"left","offset":-23.5,"values":[-10,-5,0,5,10],"labelFontSize":32,"labelPadding":7,"title":"Difference in −log₁₀ p-values between old and young","titleFontSize":38.5,"titleX":-101,"titleY":411,"titleBaseline":"middle"}}}},
{"data":{"name":"sY"},"mark":{"type":"circle","size":100,"color":"#E7B800","opacity":1},"encoding":{"x":{"field":"x","type":"quantitative","scale":{"domain":[-3.42,40.91]}},"y":{"field":"y","type":"quantitative","scale":{"domain":[-13.22,13.2]}}}},
{"data":{"name":"sT"},"mark":{"type":"circle","size":100,"color":"#00AFBB","opacity":1},"encoding":{"x":{"field":"x","type":"quantitative","scale":{"domain":[-3.42,40.91]}},"y":{"field":"y","type":"quantitative","scale":{"domain":[-13.22,13.2]}}}},
{"data":{"values":[{"line":"zero"}]},"mark":{"type":"rule","color":"black","strokeWidth":2.5,"strokeDash":[14,9]},"encoding":{"x":{"datum":-1.87,"scale":{"domain":[-3.42,40.91]}},"x2":{"datum":40.91},"y":{"datum":0,"scale":{"domain":[-13.22,13.2]}}}},
{"data":{"values":[{"line":"axis"}]},"mark":{"type":"rule","color":"black","strokeWidth":2.5},"encoding":{"x":{"datum":-1.87,"scale":{"domain":[-3.42,40.91]}},"x2":{"datum":40.91},"y":{"datum":-13.22,"scale":{"domain":[-13.22,13.2]}}}},
{"data":{"values":[{"label":"(b)"}]},"mark":{"type":"text","color":"black","fontWeight":"bold","fontSize":32,"baseline":"middle"},"encoding":{"x":{"datum":-8.07,"scale":{"domain":[-3.42,40.91]}},"y":{"datum":15.68,"scale":{"domain":[-13.22,13.2]}},"text":{"field":"label"}}},
{"data":{"values":[{"label":"Sleep genes"}]},"mark":{"type":"text","color":"black","fontWeight":"bold","fontSize":39,"baseline":"middle"},"encoding":{"x":{"datum":18.64,"scale":{"domain":[-3.42,40.91]}},"y":{"datum":14.45,"scale":{"domain":[-13.22,13.2]}},"text":{"field":"label"}}}
]},
{"data":{"name":"iS"},"layer":[
{"mark":{"type":"bar","stroke":"black","strokeWidth":2.5},"encoding":{"x":{"field":"class","type":"nominal","sort":null,"scale":{"type":"band","range":[420.5,642.8],"paddingInner":0.294,"paddingOuter":0.238},"axis":{"orient":"bottom","offset":-594.5,"title":null,"labelAngle":-20,"labelAlign":"right","labelBaseline":"top","labelFontWeight":"bold","labelFontSize":18,"labelPadding":6}},"y":{"field":"pct","type":"quantitative","scale":{"domain":[-7.4,146.5],"range":[215.5,53]},"axis":{"orient":"left","offset":-420.5,"values":[0,25,50,75,100],"labelFontSize":18,"labelPadding":4,"title":"% decrease in old","titleFontSize":20,"titleFontWeight":"bold","titleX":-69,"titleY":132,"titleBaseline":"middle"}},"color":{"field":"class","type":"nominal","legend":null,"sort":null,"scale":{"domain":["Common","Y-specific","O-specific","Combined"],"range":["#00AFBB","#E7B800","#FC4E07","#8B4513"]}}}},
{"mark":{"type":"text","color":"black","fontSize":30,"baseline":"bottom","dy":-3},"encoding":{"x":{"field":"class","type":"nominal","sort":null},"y":{"field":"pct","type":"quantitative","scale":{"domain":[-7.4,146.5],"range":[215.5,53]}},"text":{"field":"pct"}}}
]}
]},
{"width":672,"height":810,"resolve":{"scale":{"x":"independent","y":"independent"},"axis":{"x":"independent","y":"independent"}},"layer":[
{"layer":[
{"data":{"name":"wO"},"mark":{"type":"circle","size":100,"color":"#FC4E07","opacity":1},"encoding":{"x":{"field":"x","type":"quantitative","scale":{"domain":[-3.51,41.9]},"axis":{"orient":"bottom","domain":false,"values":[0,10,20,30,40],"labelFontSize":31,"labelPadding":6,"title":"−log₁₀ p-values of young mice","titleFontSize":38.5,"titleX":337,"titleY":84,"titleBaseline":"middle"}},"y":{"field":"y","type":"quantitative","scale":{"domain":[-13.22,13.2]},"axis":{"orient":"left","offset":-23.2,"values":[-10,-5,0,5,10],"labelFontSize":32,"labelPadding":7,"title":"Difference in −log₁₀ p-values between old and young","titleFontSize":38.5,"titleX":-101,"titleY":411,"titleBaseline":"middle"}}}},
{"data":{"name":"wY"},"mark":{"type":"circle","size":100,"color":"#E7B800","opacity":1},"encoding":{"x":{"field":"x","type":"quantitative","scale":{"domain":[-3.51,41.9]}},"y":{"field":"y","type":"quantitative","scale":{"domain":[-13.22,13.2]}}}},
{"data":{"name":"wT"},"mark":{"type":"circle","size":100,"color":"#00AFBB","opacity":1},"encoding":{"x":{"field":"x","type":"quantitative","scale":{"domain":[-3.51,41.9]}},"y":{"field":"y","type":"quantitative","scale":{"domain":[-13.22,13.2]}}}},
{"data":{"values":[{"line":"zero"}]},"mark":{"type":"rule","color":"black","strokeWidth":2.5,"strokeDash":[14,9]},"encoding":{"x":{"datum":-1.95,"scale":{"domain":[-3.51,41.9]}},"x2":{"datum":41.9},"y":{"datum":0,"scale":{"domain":[-13.22,13.2]}}}},
{"data":{"values":[{"line":"axis"}]},"mark":{"type":"rule","color":"black","strokeWidth":2.5},"encoding":{"x":{"datum":-1.95,"scale":{"domain":[-3.51,41.9]}},"x2":{"datum":41.9},"y":{"datum":-13.22,"scale":{"domain":[-13.22,13.2]}}}},
{"data":{"values":[{"label":"Wake genes"}]},"mark":{"type":"text","color":"black","fontWeight":"bold","fontSize":39,"baseline":"middle"},"encoding":{"x":{"datum":18.99,"scale":{"domain":[-3.51,41.9]}},"y":{"datum":14.45,"scale":{"domain":[-13.22,13.2]}},"text":{"field":"label"}}}
]},
{"data":{"name":"iW"},"layer":[
{"mark":{"type":"bar","stroke":"black","strokeWidth":2.5},"encoding":{"x":{"field":"class","type":"nominal","sort":null,"scale":{"type":"band","range":[413.8,627.9],"paddingInner":0.279,"paddingOuter":0.232},"axis":{"orient":"bottom","offset":-594.5,"title":null,"labelAngle":-20,"labelAlign":"right","labelBaseline":"top","labelFontWeight":"bold","labelFontSize":18,"labelPadding":6}},"y":{"field":"pct","type":"quantitative","scale":{"domain":[-7.4,146.5],"range":[215.5,53]},"axis":{"orient":"left","offset":-413.8,"values":[0,25,50,75,100],"labelFontSize":18,"labelPadding":4,"title":"% decrease in old","titleFontSize":20,"titleFontWeight":"bold","titleX":-70.6,"titleY":132,"titleBaseline":"middle"}},"color":{"field":"class","type":"nominal","legend":null,"sort":null,"scale":{"domain":["Common","Y-specific","O-specific","Combined"],"range":["#00AFBB","#E7B800","#FC4E07","#8B4513"]}}}},
{"mark":{"type":"text","color":"black","fontSize":30,"baseline":"bottom","dy":-3},"encoding":{"x":{"field":"class","type":"nominal","sort":null},"y":{"field":"pct","type":"quantitative","scale":{"domain":[-7.4,146.5],"range":[215.5,53]}},"text":{"field":"pct"}}}
]}
]}
]}
